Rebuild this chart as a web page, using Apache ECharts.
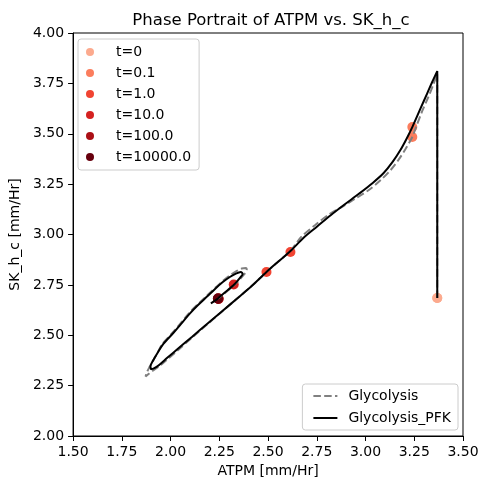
<!DOCTYPE html>
<html>
<head>
<meta charset="utf-8">
<script src="https://cdn.jsdelivr.net/npm/echarts@6.0.0/dist/echarts.min.js"></script>
<style>
  html, body { margin: 0; padding: 0; background: #fff; }
  #chart { width: 490px; height: 490px; }
</style>
</head>
<body>
<div id="chart"></div>
<script>
// Trajectory: Glycolysis (dashed).
const glycolysisX = [3.368, 3.368, 3.368, 3.347, 3.322, 3.291, 3.261, 3.240, 3.205, 3.169, 3.129, 3.078, 3.017, 2.950, 2.884, 2.813, 2.742, 2.670, 2.615, 2.553, 2.492, 2.416, 2.340, 2.263, 2.187, 2.111, 2.039, 1.983, 1.943, 1.907, 1.887, 1.872, 1.877, 1.892, 1.912, 1.933, 1.958, 2.009, 2.050, 2.095, 2.141, 2.187, 2.228, 2.268, 2.304, 2.340, 2.365, 2.386, 2.391, 2.375, 2.345, 2.309, 2.274, 2.243]
const glycolysisY = [2.685, 3.780, 3.797, 3.742, 3.682, 3.613, 3.538, 3.484, 3.424, 3.370, 3.320, 3.270, 3.221, 3.180, 3.140, 3.100, 3.047, 2.988, 2.918, 2.866, 2.814, 2.744, 2.681, 2.617, 2.553, 2.489, 2.427, 2.380, 2.347, 2.323, 2.308, 2.295, 2.313, 2.342, 2.377, 2.412, 2.457, 2.511, 2.558, 2.610, 2.655, 2.697, 2.734, 2.769, 2.797, 2.819, 2.831, 2.834, 2.824, 2.799, 2.767, 2.734, 2.705, 2.682]

// Glycolysis_PFK (solid).
const pfkX = [3.368, 3.368, 3.368, 3.342, 3.317, 3.281, 3.240, 3.210, 3.179, 3.139, 3.093, 3.037, 2.966, 2.894, 2.823, 2.752, 2.681, 2.615, 2.553, 2.492, 2.416, 2.340, 2.263, 2.187, 2.111, 2.039, 1.983, 1.943, 1.917, 1.902, 1.897, 1.912, 1.933, 1.963, 2.014, 2.055, 2.101, 2.141, 2.187, 2.228, 2.268, 2.304, 2.335, 2.360, 2.370, 2.355, 2.324, 2.294, 2.263, 2.233, 2.207, 2.243]
const pfkY = [2.685, 3.795, 3.811, 3.757, 3.702, 3.623, 3.533, 3.474, 3.419, 3.360, 3.305, 3.256, 3.202, 3.150, 3.097, 3.040, 2.983, 2.918, 2.866, 2.814, 2.744, 2.681, 2.618, 2.556, 2.493, 2.434, 2.388, 2.354, 2.337, 2.332, 2.345, 2.377, 2.412, 2.457, 2.511, 2.558, 2.610, 2.650, 2.692, 2.730, 2.764, 2.789, 2.806, 2.814, 2.804, 2.784, 2.749, 2.725, 2.700, 2.675, 2.658, 2.682]

// Snapshots at the marked times.
const timeLabels = ['t=0', 't=0.1', 't=1.0', 't=10.0', 't=100.0', 't=10000.0']
const glycolysisSnapX = [3.368, 3.240, 2.492, 2.246, 2.246, 2.243]
const glycolysisSnapY = [2.685, 3.484, 2.814, 2.684, 2.680, 2.682]
const pfkSnapX = [3.368, 3.240, 2.615, 2.324, 2.246, 2.243]
const pfkSnapY = [2.685, 3.533, 2.913, 2.752, 2.680, 2.682]

// Reds colormap.
const timeColors = ['#fcaa8e', '#fb7d5d', '#f14432', '#d52221', '#ab1016', '#67000d']

const font = 'DejaVu Sans'

const zip = (xs, ys) => xs.map((x, i) => [x, ys[i]])

const genAxis = (min, max, name, nameGap) => ({
  type: 'value',
  min,
  max,
  interval: 0.25,
  name,
  nameLocation: 'middle',
  nameGap,
  nameTextStyle: { color: '#000', fontSize: 14, fontFamily: font },
  axisLine: { show: true, onZero: false, lineStyle: { color: '#000', width: 1 } },
  axisTick: { show: true, length: 5, lineStyle: { color: '#000' } },
  axisLabel: {
    color: '#000',
    fontSize: 14,
    fontFamily: font,
    margin: 9,
    formatter: (v) => v.toFixed(2),
  },
  splitLine: { show: false },
})

const legendBox = {
  orient: 'vertical',
  backgroundColor: 'rgba(255,255,255,0.8)',
  borderColor: '#cccccc',
  borderWidth: 1,
  borderRadius: 3,
  textStyle: { color: '#000', fontSize: 14, fontFamily: font },
}

const genChartOption = () => ({
  animation: false,
  backgroundColor: '#fff',
  title: {
    text: 'Phase Portrait of ATPM vs. SK_h_c',
    left: 266,
    top: 7,
    textAlign: 'center',
    textStyle: { color: '#000', fontSize: 16.5, fontWeight: 'normal', fontFamily: font },
  },
  grid: {
    left: 70,
    right: 27,
    top: 33,
    bottom: 54,
    containLabel: false,
    show: true,
    borderColor: '#000',
    borderWidth: 1,
  },
  xAxis: genAxis(1.5, 3.5, 'ATPM [mm/Hr]', 27),
  yAxis: genAxis(2, 4, 'SK_h_c [mm/Hr]', 46),
  legend: [
    {
      ...legendBox,
      data: timeLabels,
      left: 78,
      top: 39,
      padding: [6, 8, 6, 8],
      itemGap: 7,
      itemWidth: 22,
      itemHeight: 8,
      icon: 'circle',
      textStyle: { ...legendBox.textStyle, padding: [0, 0, 0, 10] },
    },
    {
      ...legendBox,
      data: ['Glycolysis', 'Glycolysis_PFK'],
      right: 32,
      bottom: 60,
      padding: [5, 7, 5, 10],
      itemGap: 8,
      itemWidth: 24,
      itemHeight: 14,
      // 只要线, 不要圆点.
      itemStyle: { opacity: 0 },
      textStyle: { ...legendBox.textStyle, padding: [0, 0, 0, 6] },
    },
  ],
  series: [
    {
      name: 'Glycolysis',
      type: 'line',
      data: zip(glycolysisX, glycolysisY),
      symbol: 'none',
      smooth: 0.3,
      color: '#808080',
      lineStyle: { color: '#808080', width: 2, type: [7.5, 3.3] },
    },
    {
      name: 'Glycolysis_PFK',
      type: 'line',
      data: zip(pfkX, pfkY),
      symbol: 'none',
      smooth: 0.3,
      color: '#000',
      lineStyle: { color: '#000', width: 2 },
    },
    ...timeLabels.map((label, i) => ({
      name: label,
      type: 'scatter',
      symbolSize: 10,
      itemStyle: { color: timeColors[i], opacity: 1 },
      data: [
        [glycolysisSnapX[i], glycolysisSnapY[i]],
        [pfkSnapX[i], pfkSnapY[i]],
      ],
    })),
  ],
})

const chart = echarts.init(document.getElementById('chart'))
chart.setOption(genChartOption())
</script>
</body>
</html>
